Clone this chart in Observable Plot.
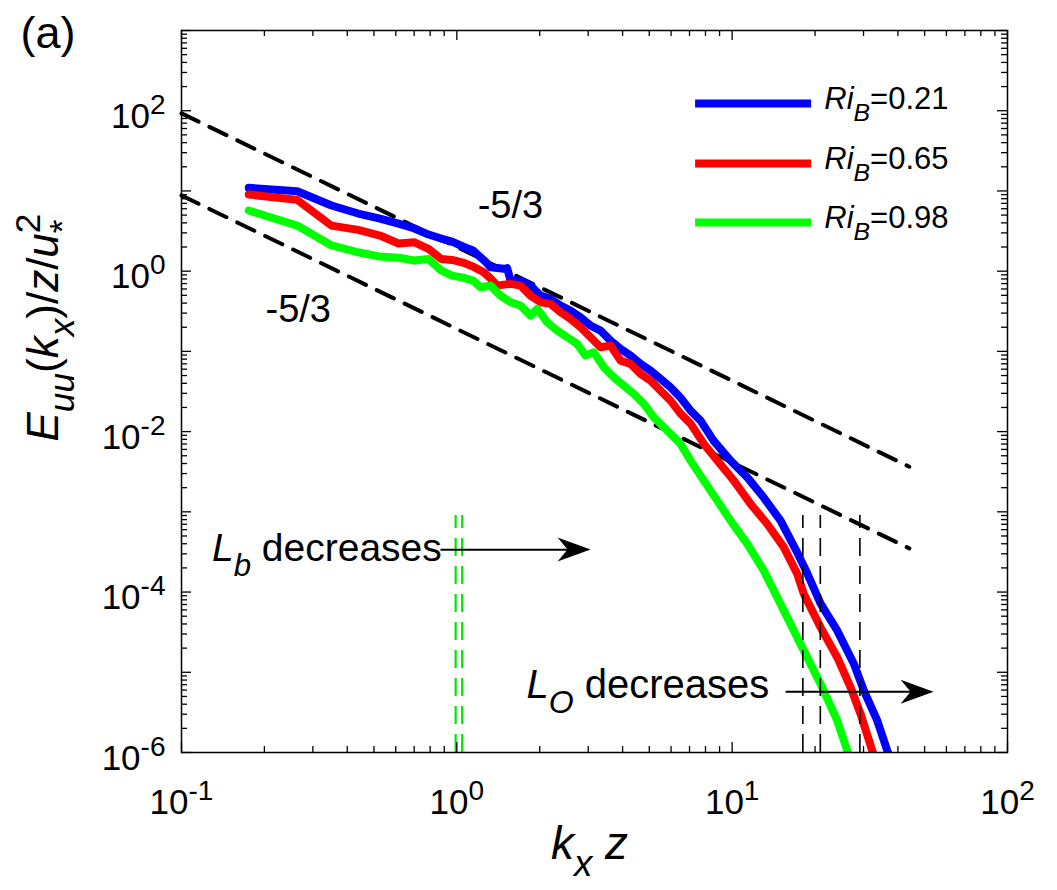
<!DOCTYPE html>
<html>
<head>
<meta charset="utf-8">
<script src="https://cdn.jsdelivr.net/npm/d3@7"></script>
<script src="https://cdn.jsdelivr.net/npm/@observablehq/plot@0.6"></script>
<style>
  body { margin: 0; background: #fff; }
  #chart svg { font-family: "Liberation Sans", Arial, Helvetica, sans-serif; }
</style>
</head>
<body>
<div id="chart"></div>
<script>
// ---------------- data ----------------
const seriesLabels = ["*Ri*_{*B*}=0.21", "*Ri*_{*B*}=0.65", "*Ri*_{*B*}=0.98"];
const seriesColors = ["#0000ff", "#ff0000", "#00ff00"];

const kzBlue = [0.1755, 0.2632, 0.3506, 0.4384, 0.5260, 0.6140, 0.7020, 0.7894, 0.877, 0.9607, 1.0524, 1.145, 1.28, 1.326, 1.482, 1.524, 1.567, 1.704, 1.852, 2.014, 2.190, 2.381, 2.588, 2.814, 3.060, 3.327, 3.617, 3.932, 4.276, 4.649, 5.054, 5.495, 5.974, 6.494, 7.063, 7.678, 8.557, 9.867, 11.35, 13.00, 14.99, 17.24, 18.75, 20.95, 24.09, 27.68, 30.09, 33.66, 36.60, 38.5];
const euuBlue = [10.93, 9.92, 6.58, 5.23, 4.53, 3.92, 3.40, 2.86, 2.55, 2.34, 2.03, 1.81, 1.28, 1.12, 1.07, 1.09, 0.763, 0.763, 0.661, 0.496, 0.451, 0.3725, 0.3227, 0.2661, 0.2098, 0.1817, 0.1364, 0.1074, 0.0886, 0.0698, 0.0576, 0.0454, 0.0357, 0.0265, 0.01827, 0.01372, 0.00772, 0.00435, 0.00269, 0.001516, 7.77e-4, 3.10e-4, 1.70e-4, 7.17e-5, 3.30e-5, 1.27e-5, 5.90e-6, 2.49e-6, 1.05e-6, 7e-7];

const kzRed = [0.1755, 0.2632, 0.3506, 0.4384, 0.5260, 0.6140, 0.7020, 0.7894, 0.877, 0.9607, 1.0524, 1.145, 1.253, 1.326, 1.402, 1.482, 1.567, 1.704, 1.852, 2.014, 2.190, 2.381, 2.588, 2.814, 3.060, 3.327, 3.617, 3.932, 4.276, 4.649, 5.054, 5.495, 5.974, 6.494, 7.063, 7.893, 8.830, 10.14, 11.66, 13.41, 15.41, 17.24, 18.21, 20.95, 24.09, 26.92, 29.27, 32.28, 34.0];
const euuRed = [9.02, 7.74, 3.70, 3.27, 2.78, 2.21, 2.29, 1.90, 1.42, 1.38, 1.28, 1.14, 0.969, 0.809, 0.661, 0.680, 0.694, 0.661, 0.496, 0.4096, 0.3912, 0.3073, 0.2542, 0.1997, 0.1499, 0.1125, 0.1181, 0.0768, 0.0698, 0.0524, 0.0432, 0.0324, 0.02435, 0.01677, 0.01259, 0.00702, 0.00435, 0.00245, 0.001255, 7.06e-4, 3.61e-4, 1.68e-4, 9.47e-5, 3.63e-5, 1.53e-5, 6.48e-6, 3.02e-6, 1.05e-6, 6e-7];

const kzGreen = [0.1755, 0.2632, 0.3506, 0.4384, 0.5260, 0.6140, 0.7020, 0.7894, 0.877, 0.9607, 1.0524, 1.145, 1.219, 1.326, 1.441, 1.567, 1.704, 1.852, 1.959, 2.130, 2.316, 2.518, 2.737, 2.935, 3.145, 3.420, 3.718, 4.043, 4.395, 4.779, 5.195, 6.494, 7.063, 7.893, 8.830, 9.867, 11.35, 13.03, 14.58, 15.85, 18.21, 20.95, 24.09, 26.19, 27.5];
const euuGreen = [5.70, 3.70, 2.09, 1.72, 1.52, 1.47, 1.36, 1.42, 1.02, 0.881, 0.832, 0.763, 0.630, 0.661, 0.496, 0.4096, 0.3725, 0.2795, 0.3388, 0.2306, 0.1817, 0.1499, 0.1240, 0.0886, 0.0974, 0.0633, 0.0475, 0.0375, 0.0295, 0.02215, 0.01508, 0.00702, 0.00435, 0.00245, 0.00138, 7.77e-4, 3.98e-4, 1.85e-4, 8.59e-5, 4.84e-5, 1.86e-5, 7.15e-6, 2.49e-6, 1.05e-6, 6e-7];

// -5/3 reference lines (endpoints)
const refKz = [0.1, 44];
const refUpper = [92.8, 3.65e-3];
const refLower = [8.8, 3.5e-4];
const slopeLabel = "-5/3";

// vertical dashed markers
const lbMarkers = [0.99, 1.046];        // green
const loMarkers = [18.06, 20.9, 29.1];  // black
const markerTop = 9e-4;

// axis ticks
const xTickValues = [0.1, 1, 10, 100];
const xTickLabels = ["10^{-1}", "10^{0}", "10^{1}", "10^{2}"];
const yTickValues = [1e-6, 1e-4, 1e-2, 1, 100];
const yTickLabels = ["10^{-6}", "10^{-4}", "10^{-2}", "10^{0}", "10^{2}"];

const xTitle = "*k*_{*x*} *z*";
const yTitle = "*E*_{*uu*}(*k*_{*x*})/*z*/*u*^{2}~_{\\*}";
const panelTag = "(a)";
const lbText = "*L*_{*b*} decreases";
const loText = "*L*_{*O*} decreases";

// ---------------- layout ----------------
const W = 1057, H = 890, mL = 181, mR = 50, mT = 30, mB = 138;
const innerW = W - mL - mR, innerH = H - mT - mB;

const toRows = (xs, ys) => xs.map((x, i) => ({x, y: ys[i]}));
const blue = toRows(kzBlue, euuBlue);
const red = toRows(kzRed, euuRed);
const green = toRows(kzGreen, euuGreen);

const decades = (lo, hi) => { const out = []; for (let d = lo; d < hi; d++) out.push(10 ** d); out.push(10 ** hi); return out; };
const minors = (lo, hi) => { const out = []; for (let d = lo; d < hi; d++) for (let k = 2; k <= 9; k++) out.push(k * 10 ** d); return out; };
const xMajor = decades(-1, 2), xMinor = minors(-1, 2);
const yMajor = decades(-6, 3), yMinor = minors(-6, 3);

const arrowHead = {
  draw(ctx) {
    ctx.moveTo(0, 0);
    ctx.lineTo(-33, -12);
    ctx.lineTo(-23, 0);
    ctx.lineTo(-33, 12);
    ctx.closePath();
  }
};

const lw = 8;
const dashRef = {stroke: "black", strokeWidth: 4, strokeDasharray: "19,12"};
const plot = Plot.plot({
  width: W, height: H,
  marginLeft: mL, marginRight: mR, marginTop: mT, marginBottom: mB,
  x: {type: "log", domain: [0.1, 100], axis: null},
  y: {type: "log", domain: [1e-6, 1e3], axis: null},
  style: {background: "white", color: "black", fontFamily: "'Liberation Sans', Arial, Helvetica, sans-serif"},
  marks: [
    // -5/3 reference lines
    Plot.line(toRows(refKz, refUpper), {x: "x", y: "y", ...dashRef}),
    Plot.line(toRows(refKz, refLower), {x: "x", y: "y", ...dashRef}),
    // spectra
    Plot.line(blue, {x: "x", y: "y", stroke: seriesColors[0], strokeWidth: lw, strokeLinejoin: "round", strokeLinecap: "round", clip: true}),
    Plot.line(red, {x: "x", y: "y", stroke: seriesColors[1], strokeWidth: lw, strokeLinejoin: "round", strokeLinecap: "round", clip: true}),
    Plot.line(green, {x: "x", y: "y", stroke: seriesColors[2], strokeWidth: lw, strokeLinejoin: "round", strokeLinecap: "round", clip: true}),
    // vertical markers
    Plot.ruleX(lbMarkers.map(x => ({x, y1: 1e-6, y2: markerTop})), {x: "x", y1: "y1", y2: "y2", stroke: "#00e600", strokeWidth: 2.2, strokeDasharray: "18,10"}),
    Plot.ruleX(loMarkers.map(x => ({x, y1: 1e-6, y2: markerTop})), {x: "x", y1: "y1", y2: "y2", stroke: "black", strokeWidth: 1.6, strokeDasharray: "18,10"}),
    // arrows
    Plot.link([{x1: 0.8724, x2: 2.9, y: 3.38e-4}], {x1: "x1", x2: "x2", y1: "y", y2: "y", stroke: "black", strokeWidth: 2}),
    Plot.dot([{x: 3.06, y: 3.38e-4}], {x: "x", y: "y", symbol: arrowHead, fill: "black", stroke: "none"}),
    Plot.link([{x1: 15.63, x2: 51, y: 5.73e-6}], {x1: "x1", x2: "x2", y1: "y", y2: "y", stroke: "black", strokeWidth: 2}),
    Plot.dot([{x: 53.9, y: 5.73e-6}], {x: "x", y: "y", symbol: arrowHead, fill: "black", stroke: "none"}),
    // annotations
    Plot.text([{x: 1.19, y: 4.6, t: slopeLabel}, {x: 0.2019, y: 0.235, t: slopeLabel}], {x: "x", y: "y", text: "t", textAnchor: "start", lineAnchor: "bottom", fontSize: 38}),
    Plot.text([{x: 0.129, y: 2.46e-4, t: lbText}], {x: "x", y: "y", text: "t", textAnchor: "start", lineAnchor: "bottom", fontSize: 39}),
    Plot.text([{x: 1.79, y: 4.82e-6, t: loText}], {x: "x", y: "y", text: "t", textAnchor: "start", lineAnchor: "bottom", fontSize: 40}),
    // legend
    ...seriesLabels.map((lab, i) => Plot.ruleY([{y: [122.9, 21.96, 4.04][i]}], {y: "y", x1: 7.365, x2: 19.43, stroke: seriesColors[i], strokeWidth: lw})),
    Plot.text(seriesLabels.map((t, i) => ({t, y: [122.9, 21.96, 4.04][i]})), {x: 21.6, y: "y", text: "t", textAnchor: "start", fontSize: 31, dy: -4}),
    // frame and inward ticks
    Plot.frame({stroke: "black", strokeWidth: 1.5}),
    Plot.tickX(xMinor, {x: d => d, insetTop: innerH - 6, stroke: "black", strokeWidth: 1.3}),
    Plot.tickX(xMinor, {x: d => d, insetBottom: innerH - 6, stroke: "black", strokeWidth: 1.3}),
    Plot.tickX(xMajor, {x: d => d, insetTop: innerH - 10, stroke: "black", strokeWidth: 1.3}),
    Plot.tickX(xMajor, {x: d => d, insetBottom: innerH - 10, stroke: "black", strokeWidth: 1.3}),
    Plot.tickY(yMinor, {y: d => d, insetRight: innerW - 6, stroke: "black", strokeWidth: 1.3}),
    Plot.tickY(yMinor, {y: d => d, insetLeft: innerW - 6, stroke: "black", strokeWidth: 1.3}),
    Plot.tickY(yMajor, {y: d => d, insetRight: innerW - 10, stroke: "black", strokeWidth: 1.3}),
    Plot.tickY(yMajor, {y: d => d, insetLeft: innerW - 10, stroke: "black", strokeWidth: 1.3}),
    // tick labels
    Plot.text(xTickValues.map((v, i) => ({v, t: xTickLabels[i]})), {x: "v", text: "t", frameAnchor: "bottom", dy: 61, lineAnchor: "bottom", textAnchor: "middle", fontSize: 35}),
    Plot.text(yTickValues.map((v, i) => ({v, t: yTickLabels[i]})), {y: "v", text: "t", frameAnchor: "left", dx: -16, dy: 6, textAnchor: "end", fontSize: 35}),
    // titles
    Plot.text([xTitle], {frameAnchor: "bottom", text: d => d, dx: -5, dy: 106, lineAnchor: "bottom", fontSize: 46}),
    Plot.text([yTitle], {frameAnchor: "left", text: d => d, rotate: -90, dx: -124, dy: 50, lineAnchor: "bottom", fontSize: 44}),
    Plot.text([panelTag], {frameAnchor: "top-left", text: d => d, dx: -161, dy: 17, lineAnchor: "bottom", textAnchor: "start", fontSize: 45})
  ]
});

document.getElementById("chart").appendChild(plot);

// ---------------- rich text (italic, sub/superscripts) ----------------
function parseRich(s) {
  const runs = []; const stack = [];
  let italic = false, level = 0, buf = "", back = false;
  const flush = () => { if (buf) { runs.push({text: buf, italic, level, back}); back = false; buf = ""; } };
  for (let i = 0; i < s.length; i++) {
    const c = s[i];
    if (c === "\\") { buf += s[++i]; continue; }
    if (c === "*") { flush(); italic = !italic; continue; }
    if ((c === "^" || c === "_") && s[i + 1] === "{") { flush(); stack.push(level); level = c === "^" ? 1 : -1; i++; continue; }
    if (c === "}" && stack.length) { flush(); level = stack.pop(); continue; }
    if (c === "~") { flush(); back = true; continue; }
    buf += c;
  }
  flush();
  return runs;
}
function richify(svg) {
  svg.querySelectorAll("text").forEach(t => {
    const s = t.textContent;
    if (!/[\^_*~]/.test(s)) return;
    const fs = parseFloat(getComputedStyle(t).fontSize);
    const runs = parseRich(s);
    t.textContent = "";
    let cur = 0, prev = null;
    for (const r of runs) {
      const ts = document.createElementNS("http://www.w3.org/2000/svg", "tspan");
      const off = r.level > 0 ? -0.4 * fs : r.level < 0 ? 0.38 * fs : 0;
      if (off !== cur) ts.setAttribute("dy", off - cur);
      cur = off;
      ts.setAttribute("font-size", (r.level ? 0.8 : 1) * fs);
      if (r.italic) ts.setAttribute("font-style", "italic");
      ts.textContent = r.text;
      t.appendChild(ts);
      if (r.back && prev) ts.setAttribute("dx", -prev.getComputedTextLength());
      prev = ts;
    }
  });
}
richify(plot);
</script>
</body>
</html>
